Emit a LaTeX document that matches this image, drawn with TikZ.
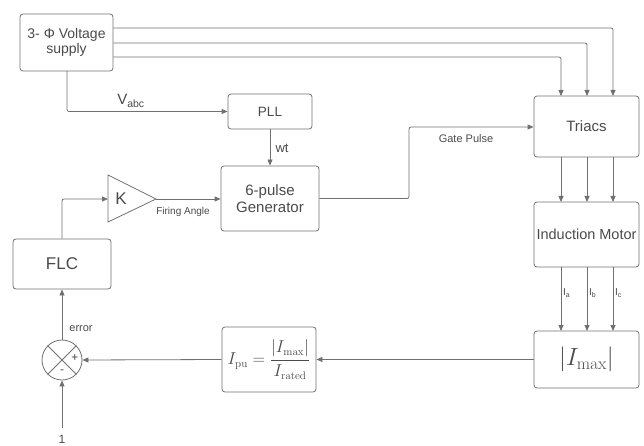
\documentclass[tikz,border=0pt]{standalone}
\usepackage[no-math]{fontspec}
\setmainfont{Liberation Sans}
\usetikzlibrary{arrows.meta}
\definecolor{ln}{HTML}{707070}
\definecolor{tx}{HTML}{4A4A4A}
\begin{document}
\begin{tikzpicture}[x=1pt,y=-1pt,
  blk/.style={draw=ln, line width=0.8pt, rounded corners=3pt, text=tx, align=center, inner sep=0pt},
  con/.style={draw=ln, line width=0.8pt, -{Triangle[length=6pt,width=5pt]}, rounded corners=2pt},
  lbl/.style={text=tx, inner sep=0pt, font=\fontsize{10}{12}\selectfont},
  every node/.style={text=tx}]
\useasboundingbox (0,0) rectangle (644,446);
% blocks
\node[blk, minimum width=93pt, minimum height=57pt, font=\fontsize{14}{15}\selectfont] (sup) at (66.5,42.5) {3- Φ Voltage\\supply};
\node[blk, minimum width=84pt, minimum height=35pt, font=\fontsize{13.5}{15}\selectfont] (pll) at (270,111.5) {PLL};
\node[blk, minimum width=98pt, minimum height=65pt, font=\fontsize{15}{17}\selectfont] (gen) at (270,198.5) {6-pulse\\Generator};
\node[blk, minimum width=105pt, minimum height=61pt, font=\fontsize{15}{17}\selectfont] (tri) at (586.5,126.5) {Triacs};
\node[blk, minimum width=105pt, minimum height=65pt, font=\fontsize{14.5}{17}\selectfont] (im) at (586.5,234.5) {Induction Motor};
\node[blk, minimum width=105pt, minimum height=57pt, font=\fontsize{23}{26}\selectfont] (imax) at (586.5,359.5) {$|I_{\max}|$};
\node[blk, minimum width=94pt, minimum height=65pt, font=\fontsize{16}{18}\selectfont] (ipu) at (269,359.5) {$I_{\mathrm{pu}}=\displaystyle\frac{|I_{\max}|}{I_{\mathrm{rated}}}$};
\node[blk, minimum width=98pt, minimum height=50pt, font=\fontsize{17}{20}\selectfont] (flc) at (62,264) {FLC};
\node[circle, draw=ln, line width=0.8pt, minimum size=40pt, inner sep=0pt] (sum) at (62,360) {};
\draw[ln, line width=0.8pt] (sum.north west) -- (sum.south east) (sum.north east) -- (sum.south west);
\node[font=\fontsize{12}{12}\selectfont, inner sep=0pt] at (75,358.5) {+};
\node[font=\fontsize{12}{12}\selectfont, inner sep=0pt] at (62,372) {-};
% K triangle
\coordinate (kin) at (108,199);
\coordinate (kout) at (156,199);
\draw[ln, line width=0.8pt] (108,175) -- (kout) -- (108,222) -- cycle;
\node[font=\fontsize{17}{20}\selectfont, inner sep=0pt] (k) at (121,199) {K};
\coordinate (one) at (62,428);
\node[font=\fontsize{12}{12}\selectfont, inner sep=0pt] (onel) at (62,439) {1};
% supply to triacs
\draw[con] (sup.east |- 0,28) -- (613,28) -- (613,96);
\draw[con] (sup.east |- 0,43) -- (587,43) -- (587,96);
\draw[con] (sup.east |- 0,57) -- (561,57) -- (561,96);
% supply to PLL
\draw[con] (67,71) -- (67,111.5) -- (pll.west);
\node[font=\fontsize{15}{15}\selectfont, inner sep=0pt] at (131,101) {V\textsubscript{abc}};
% PLL to gen
\draw[con] (pll.south) -- (gen.north);
\node[font=\fontsize{13}{13}\selectfont, inner sep=0pt] at (282,148) {wt};
% FLC to K
\draw[con] (flc.north) -- (62,199) -- (kin);
% K to gen
\draw[con] (kout) -- (gen.west |- kout);
\node[lbl] at (183,212) {Firing Angle};
% gate pulse
\draw[con] (gen.east) -- (409,198.5) -- (409,127) -- (tri.west |- 0,127);
\node[lbl, font=\fontsize{11}{12}\selectfont] at (466,139) {Gate Pulse};
% triacs to motor
\foreach \xx in {561,587,613} {\draw[con] (\xx,157) -- (\xx,202);}
% motor to imax
\foreach \xx in {561,587,613} {\draw[con] (\xx,267) -- (\xx,331);}
\node[lbl, anchor=west] at (563,293) {I\textsubscript{a}};
\node[lbl, anchor=west] at (589,293) {I\textsubscript{b}};
\node[lbl, anchor=west] at (615,293) {I\textsubscript{c}};
% feedback
\draw[con] (imax.west) -- (ipu.east);
\draw[con] (ipu.west) -- (sum.east);
\draw[con] (one) -- (sum.south);
\draw[con] (sum.north) -- (flc.south);
\node[lbl, font=\fontsize{11}{12}\selectfont] at (81,329) {error};
\end{tikzpicture}
\end{document}
